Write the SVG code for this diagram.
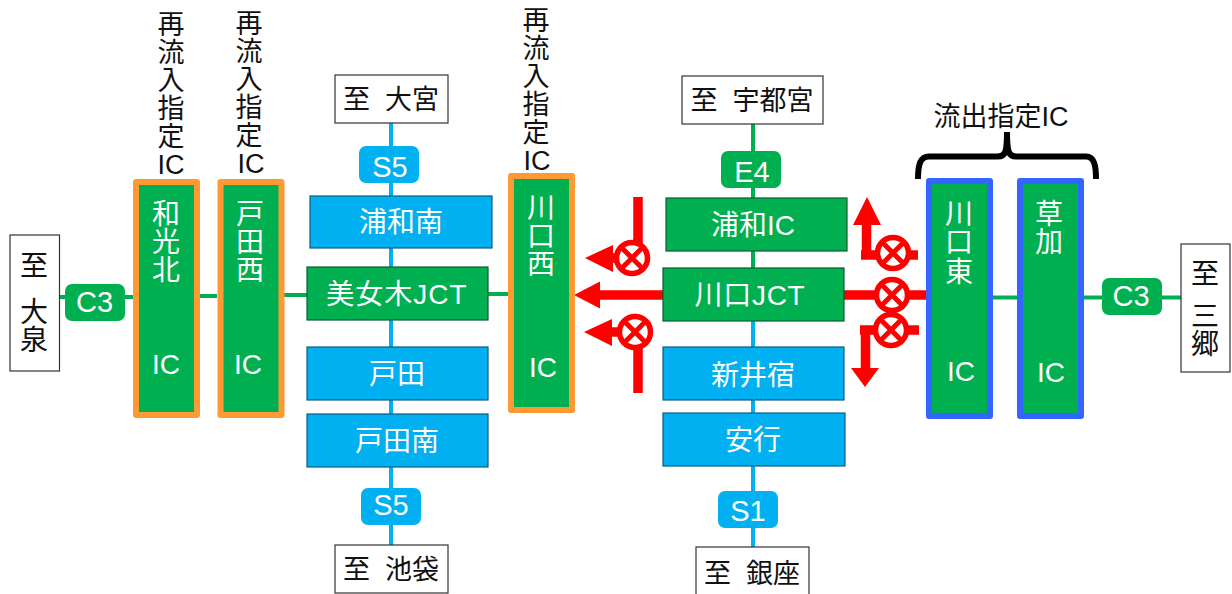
<svg xmlns="http://www.w3.org/2000/svg" width="1232" height="594" viewBox="0 0 1232 594">
<style>
text{font-family:"Liberation Sans","Noto Sans CJK JP",sans-serif;font-size:28px;text-anchor:middle}
.w{fill:#fff}.k{fill:#111}
.p{font-size:29px}
.v{font-size:27px}
.b{fill:#fff;stroke:#333;stroke-width:1.2}
.g{fill:#00b050;stroke:#0a5c33;stroke-width:1.2}
.c{fill:#00b0f0;stroke:#0a5c80;stroke-width:1.2}
.pg{fill:#00b050}.pc{fill:#00b0f0}
.o{fill:#00b050;stroke:#ff9933;stroke-width:6;stroke-linejoin:round}
.u{fill:#00b050;stroke:#3366ff;stroke-width:6;stroke-linejoin:round}
.lg{stroke:#00b050;stroke-width:4;fill:none}
.lc{stroke:#00b0f0;stroke-width:4;fill:none}
.r{stroke:#f00;stroke-width:9.500;fill:none}
.ah{fill:#f00}
.x{fill:#fff;stroke:#f00;stroke-width:5.500}
.xl{stroke:#f00;stroke-width:5}
</style>
<defs>
<g id="valve"><circle class="x" r="15.500"/><path class="xl" d="M-11-11L11 11M-11 11L11-11"/></g>
</defs>
<g id="connectors">
<path class="lg" d="M59 297H133M200 296H217M284 295H307M488 294H508"/>
<path class="lg" d="M992 297.500H1017M1083 297.500H1181"/>
<path class="lc" d="M391 123V196M391 248V267M391 320V347M391 400V414M391 467V545"/>
<path class="lg" d="M753 124V198M753 251V268"/>
<path class="lc" d="M753 321V347M753 400V413M753 466V547"/>
</g>
<g id="red-arrows">
<path class="r" d="M638 197V245M638 345V393M612 258H622M610 332H622M600 295H663M844 295H926"/>
<path class="r" d="M866.500 225V255M861 255H918M865.500 330V369M860 330H919"/>
<path class="ah" d="M585 258L613 245V272ZM584 332L612 319V346ZM574 295L600 281.500V308.500ZM867 197L853 225H881ZM865 387L851 368H879Z"/>
<use href="#valve" x="632" y="258"/>
<use href="#valve" x="635" y="332"/>
<use href="#valve" x="892" y="295"/>
<use href="#valve" x="893" y="253"/>
<use href="#valve" x="891" y="330"/>
</g>
<g id="to-oizumi"><rect class="b" x="10" y="235" width="49.500" height="136"/><text class="k"><tspan x="34" y="276">至</tspan><tspan x="34" y="322">大</tspan><tspan x="34" y="350">泉</tspan></text></g>
<g id="c3-left"><rect class="pg" x="65" y="284" width="60" height="37" rx="7"/><text class="w p" x="94.500" y="312">C3</text></g>
<g id="wakokita"><rect class="o" x="136" y="182" width="61" height="233"/><text class="w"><tspan x="166" y="224">和</tspan><tspan x="166" y="252">光</tspan><tspan x="166" y="280">北</tspan><tspan x="166" y="374">IC</tspan></text></g>
<g id="todanishi"><rect class="o" x="220.500" y="182" width="61" height="233"/><text class="w"><tspan x="250" y="224">戸</tspan><tspan x="250" y="252">田</tspan><tspan x="250" y="280">西</tspan><tspan x="248" y="374">IC</tspan></text></g>
<g id="label-wakokita"><text class="k v"><tspan x="171" y="34">再</tspan><tspan x="171" y="62">流</tspan><tspan x="171" y="90">入</tspan><tspan x="171" y="118">指</tspan><tspan x="171" y="146">定</tspan><tspan x="171" y="174">IC</tspan></text></g>
<g id="label-todanishi"><text class="k v"><tspan x="249" y="33">再</tspan><tspan x="249" y="61">流</tspan><tspan x="249" y="89">入</tspan><tspan x="249" y="117">指</tspan><tspan x="249" y="145">定</tspan><tspan x="251" y="173">IC</tspan></text></g>
<g id="label-kawaguchinishi"><text class="k v"><tspan x="536" y="30">再</tspan><tspan x="536" y="58">流</tspan><tspan x="536" y="86">入</tspan><tspan x="536" y="114">指</tspan><tspan x="536" y="142">定</tspan><tspan x="537" y="170">IC</tspan></text></g>
<g id="to-omiya"><rect class="b" x="335" y="75" width="113" height="48"/><text class="k v" x="391" y="109">至&#160;&#160;大宮</text></g>
<g id="s5-top"><rect class="pc" x="359" y="146" width="60" height="37" rx="7"/><text class="w p" x="390" y="177">S5</text></g>
<g id="urawaminami"><rect class="c" x="310" y="196" width="182" height="52"/><text class="w" x="401" y="232">浦和南</text></g>
<g id="bijogi-jct"><rect class="g" x="307" y="267" width="181" height="53"/><text class="w" x="397" y="304" letter-spacing="1">美女木JCT</text></g>
<g id="toda"><rect class="c" x="307" y="347" width="181" height="53"/><text class="w" x="397" y="384">戸田</text></g>
<g id="todaminami"><rect class="c" x="307" y="414" width="181" height="53"/><text class="w" x="397" y="451">戸田南</text></g>
<g id="s5-bottom"><rect class="pc" x="361" y="488" width="60" height="37" rx="7"/><text class="w p" x="391" y="515">S5</text></g>
<g id="to-ikebukuro"><rect class="b" x="335" y="545" width="113" height="48"/><text class="k v" x="391" y="579">至&#160;&#160;池袋</text></g>
<g id="kawaguchinishi"><rect class="o" x="511" y="176" width="61" height="234"/><text class="w"><tspan x="541" y="218">川</tspan><tspan x="541" y="246">口</tspan><tspan x="541" y="274">西</tspan><tspan x="543" y="377">IC</tspan></text></g>
<g id="to-utsunomiya"><rect class="b" x="682" y="76" width="141" height="48"/><text class="k v" x="752" y="110">至&#160;&#160;宇都宮</text></g>
<g id="e4"><rect class="pg" x="721" y="151" width="60" height="37" rx="7"/><text class="w p" x="752" y="182">E4</text></g>
<g id="urawa-ic"><rect class="g" x="666" y="198" width="181" height="53"/><text class="w" x="753" y="235">浦和IC</text></g>
<g id="kawaguchi-jct"><rect class="g" x="663" y="268" width="181" height="53"/><text class="w" x="750" y="305" letter-spacing="0.700">川口JCT</text></g>
<g id="araijuku"><rect class="c" x="663" y="347" width="181" height="53"/><text class="w" x="753" y="384.500">新井宿</text></g>
<g id="angyo"><rect class="c" x="663" y="413" width="182" height="53"/><text class="w" x="753" y="450">安行</text></g>
<g id="s1"><rect class="pc" x="718" y="491" width="60" height="37" rx="7"/><text class="w p" x="748" y="521">S1</text></g>
<g id="to-ginza"><rect class="b" x="696" y="547" width="113" height="48"/><text class="k v" x="752" y="583">至&#160;&#160;銀座</text></g>
<g id="label-ryushutsu"><text class="k v" x="1001" y="126">流出指定IC</text></g>
<path id="brace" d="M918 179C918 165 920 156.500 929 156.500H998C1005 156.500 1007 153 1007 132C1007 153 1009 156.500 1016 156.500H1086C1094 156.500 1096 165 1096 179" fill="none" stroke="#000" stroke-width="6"/>
<g id="kawaguchihigashi"><rect class="u" x="929" y="181" width="61" height="235"/><text class="w"><tspan x="959" y="224">川</tspan><tspan x="959" y="252">口</tspan><tspan x="959" y="282">東</tspan><tspan x="961" y="381">IC</tspan></text></g>
<g id="soka"><rect class="u" x="1020" y="181" width="61" height="235"/><text class="w"><tspan x="1049" y="224">草</tspan><tspan x="1049" y="252">加</tspan><tspan x="1051" y="382">IC</tspan></text></g>
<g id="c3-right"><rect class="pg" x="1102" y="278" width="60" height="37" rx="7"/><text class="w p" x="1131" y="306">C3</text></g>
<g id="to-misato"><rect class="b" x="1181" y="244" width="49" height="128"/><text class="k"><tspan x="1205" y="284">至</tspan><tspan x="1205" y="326">三</tspan><tspan x="1205" y="354">郷</tspan></text></g>
</svg>
